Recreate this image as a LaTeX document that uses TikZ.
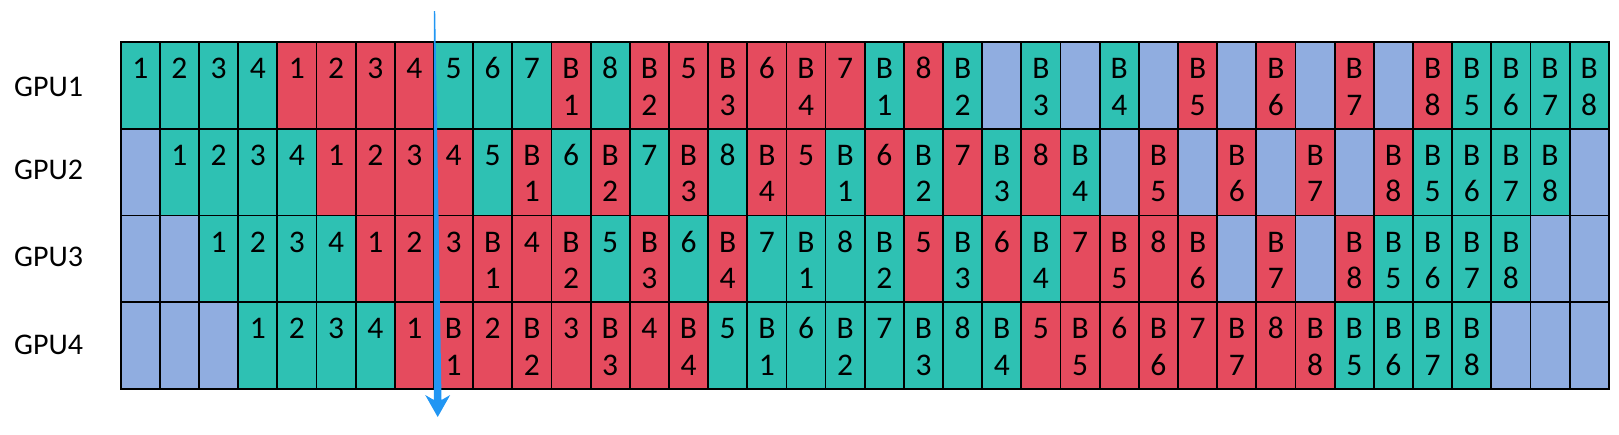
\documentclass[tikz,border=0pt]{standalone}
\usepackage{fontspec}
\setmainfont{Carlito}
\usetikzlibrary{positioning}

\definecolor{fwdcol}{RGB}{46,193,179}
\definecolor{bwdcol}{RGB}{229,75,94}
\definecolor{idlecol}{RGB}{144,173,224}
\definecolor{arrblue}{RGB}{33,150,243}

\tikzset{
  slot/.style={draw=black,line width=1.8pt,minimum width=39.16pt,minimum height=86.75pt,inner sep=0pt,outer sep=0pt},
  fw/.style={slot,fill=fwdcol},
  bw/.style={slot,fill=bwdcol},
  nop/.style={slot,fill=idlecol},
  num/.style={inner sep=0pt,anchor=base,font=\fontsize{31.5}{36}\selectfont},
  gpu/.style={inner sep=0pt,anchor=base west,font=\fontsize{30}{36}\selectfont}
}

% one row of the schedule: #1 = row, #2 = style/top/bottom list
\newcommand{\slots}[2]{%
  \foreach \k/\t/\b [count=\i] in {#2}{%
    \node[\k] (s#1-\i) at ({101.12+\i*39.16},{42+(#1-0.5)*86.75}) {};
    \node[num] at ([yshift=-36.5pt]s#1-\i.north) {\t};
    \node[num] at ([yshift=-73pt]s#1-\i.north) {\b};
  }}

\begin{document}
\begin{tikzpicture}[x=1pt,y=-1pt]
\useasboundingbox (0,0) rectangle (1619,434);

\node[gpu] (gpu1) at (14,96.5) {GPU1};
\node[gpu] (gpu2) at (14,179)  {GPU2};
\node[gpu] (gpu3) at (14,266.5) {GPU3};
\node[gpu] (gpu4) at (14,354)  {GPU4};

\slots{1}{fw/1/, fw/2/, fw/3/, fw/4/, bw/1/, bw/2/, bw/3/, bw/4/, fw/5/, fw/6/, fw/7/, bw/B/1, fw/8/, bw/B/2, bw/5/, bw/B/3, bw/6/, bw/B/4, bw/7/, fw/B/1, bw/8/, fw/B/2, nop//, fw/B/3, nop//, fw/B/4, nop//, bw/B/5, nop//, bw/B/6, nop//, bw/B/7, nop//, bw/B/8, fw/B/5, fw/B/6, fw/B/7, fw/B/8}
\slots{2}{nop//, fw/1/, fw/2/, fw/3/, fw/4/, bw/1/, bw/2/, bw/3/, bw/4/, fw/5/, bw/B/1, fw/6/, bw/B/2, fw/7/, bw/B/3, fw/8/, bw/B/4, bw/5/, fw/B/1, bw/6/, fw/B/2, bw/7/, fw/B/3, bw/8/, fw/B/4, nop//, bw/B/5, nop//, bw/B/6, nop//, bw/B/7, nop//, bw/B/8, fw/B/5, fw/B/6, fw/B/7, fw/B/8, nop//}
\slots{3}{nop//, nop//, fw/1/, fw/2/, fw/3/, fw/4/, bw/1/, bw/2/, bw/3/, bw/B/1, bw/4/, bw/B/2, fw/5/, bw/B/3, fw/6/, bw/B/4, fw/7/, fw/B/1, fw/8/, fw/B/2, bw/5/, fw/B/3, bw/6/, fw/B/4, bw/7/, bw/B/5, bw/8/, bw/B/6, nop//, bw/B/7, nop//, bw/B/8, fw/B/5, fw/B/6, fw/B/7, fw/B/8, nop//, nop//}
\slots{4}{nop//, nop//, nop//, fw/1/, fw/2/, fw/3/, fw/4/, bw/1/, bw/B/1, bw/2/, bw/B/2, bw/3/, bw/B/3, bw/4/, bw/B/4, fw/5/, fw/B/1, fw/6/, fw/B/2, fw/7/, fw/B/3, fw/8/, fw/B/4, bw/5/, bw/B/5, bw/6/, bw/B/6, bw/7/, bw/B/7, bw/8/, bw/B/8, fw/B/5, fw/B/6, fw/B/7, fw/B/8, nop//, nop//, nop//}

% cut line
\coordinate (arrtop) at (434.5,11);
\coordinate (arrtip) at (437.7,417);
\fill[arrblue] ([xshift=-0.7pt]arrtop) -- ([xshift=0.7pt]arrtop)
  -- ([xshift=3.8pt,yshift=17pt]arrtip) -- ([xshift=12.5pt,yshift=22pt]arrtip)
  -- (arrtip) -- ([xshift=-12.5pt,yshift=22pt]arrtip)
  -- ([xshift=-3.8pt,yshift=17pt]arrtip) -- cycle;

\end{tikzpicture}
\end{document}
